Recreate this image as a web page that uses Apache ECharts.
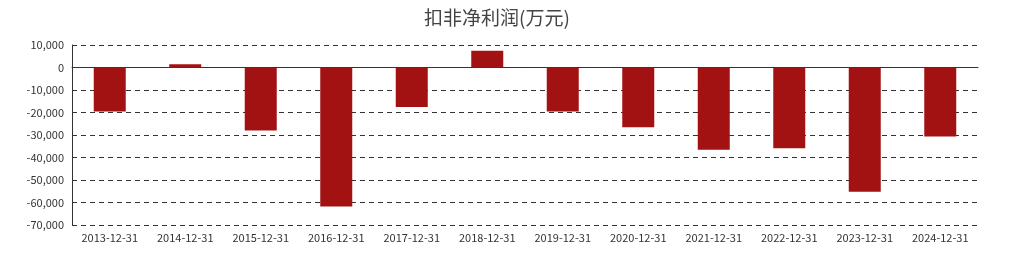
<!DOCTYPE html>
<html><head><meta charset="utf-8">
<script src="https://cdn.jsdelivr.net/npm/echarts@6/dist/echarts.min.js"></script>
<style>html,body{margin:0;padding:0;background:#fff}#c{width:1015px;height:260px}</style>
</head><body><div id="c"></div>
<script>
const categories = ['2013-12-31','2014-12-31','2015-12-31','2016-12-31','2017-12-31','2018-12-31','2019-12-31','2020-12-31','2021-12-31','2022-12-31','2023-12-31','2024-12-31'];
const values = [-19600, 1400, -28000, -61800, -17600, 7500, -19500, -26500, -36600, -35900, -55200, -30700];
const titleText = '扣非净利润(万元)';
const chart = echarts.init(document.getElementById('c'));
chart.setOption({
  animation: false,
  title: { text: titleText, left: 419, top: 3,
    textStyle: { fontFamily: 'Noto Sans CJK SC', fontSize: 19, fontWeight: 'normal', color: '#444' } },
  grid: { left: 72, right: 37, top: 45, bottom: 35 },
  xAxis: { type: 'category', data: categories,
    axisLine: { onZero: true, lineStyle: { color: '#333' } },
    axisTick: { show: false },
    axisLabel: { color: '#333', fontSize: 11, margin: 7, interval: 0, fontFamily: 'Noto Sans CJK SC' } },
  yAxis: { type: 'value', min: -70000, max: 10000, interval: 10000,
    axisLine: { show: true, lineStyle: { color: '#333' } },
    axisTick: { show: false },
    axisLabel: { color: '#333', fontSize: 11, margin: 8, fontFamily: 'Noto Sans CJK SC',
      formatter: v => v.toLocaleString('en-US') },
    splitLine: { lineStyle: { type: [5, 4], color: '#333' } } },
  series: [{ type: 'bar', data: values, barWidth: 32, itemStyle: { color: '#a31212' } }]
});
</script></body></html>
